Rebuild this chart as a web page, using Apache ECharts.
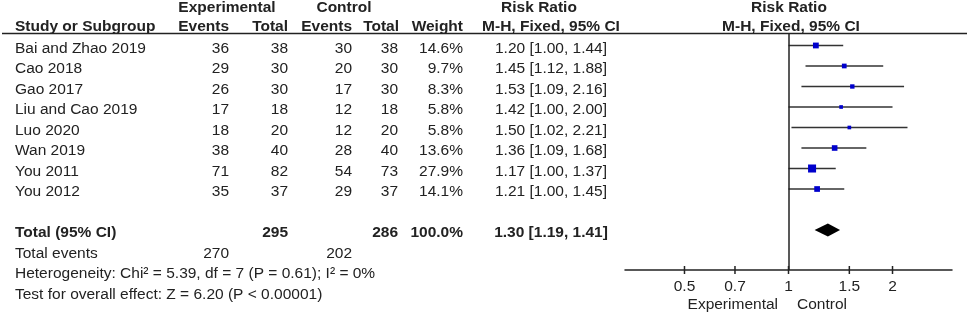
<!DOCTYPE html>
<html>
<head>
<meta charset="utf-8">
<script src="https://cdn.jsdelivr.net/npm/echarts@6/dist/echarts.min.js"></script>
<style>
html, body { margin: 0; padding: 0; background: #fff; }
#main { width: 969px; height: 316px; }
</style>
</head>
<body>
<div id="main"></div>
<script>
// study data
var studies = ['Bai and Zhao 2019', 'Cao 2018', 'Gao 2017', 'Liu and Cao 2019', 'Luo 2020', 'Wan 2019', 'You 2011', 'You 2012'];
var expEvents = [36, 29, 26, 17, 18, 38, 71, 35];
var expTotal = [38, 30, 30, 18, 20, 40, 82, 37];
var ctrlEvents = [30, 20, 17, 12, 12, 28, 54, 29];
var ctrlTotal = [38, 30, 30, 18, 20, 40, 73, 37];
var weights = [14.6, 9.7, 8.3, 5.8, 5.8, 13.6, 27.9, 14.1];
var rr = [1.20, 1.45, 1.53, 1.42, 1.50, 1.36, 1.17, 1.21];
var lower = [1.00, 1.12, 1.09, 1.00, 1.02, 1.09, 1.00, 1.00];
var upper = [1.44, 1.88, 2.16, 2.00, 2.21, 1.68, 1.37, 1.45];

// pooled result
var pooled = [1.30, 1.19, 1.41];   // rr, lower, upper
var totalN = [295, 286];          // experimental, control
var totalEvents = [270, 202];
var heterogeneity = 'Heterogeneity: Chi² = 5.39, df = 7 (P = 0.61); I² = 0%';
var overallTest = 'Test for overall effect: Z = 6.20 (P < 0.00001)';

var tickValues = [0.5, 0.7, 1, 1.5, 2];
var tickLabels = ['0.5', '0.7', '1', '1.5', '2'];

var FONT = '"Liberation Sans", Arial, sans-serif';
var FS = '15.5px ';
var TXT = '#222';
var Y_MIN = -0.56, Y_MAX = 10.95;
var TOTAL_ROW = 9;

// column x positions / alignment for the table
var cols = [
    {x: 15, align: 'left'},
    {x: 229, align: 'right'},
    {x: 288, align: 'right'},
    {x: 352, align: 'right'},
    {x: 398, align: 'right'},
    {x: 463, align: 'right'},
    {x: 551, align: 'center'}
];

function f2(v) { return v.toFixed(2); }
function ciText(a, b, c) { return f2(a) + ' [' + f2(b) + ', ' + f2(c) + ']'; }

var tableData = studies.map(function (s, i) {
    return {row: i, bold: false, cells: [s, expEvents[i], expTotal[i], ctrlEvents[i], ctrlTotal[i],
        weights[i].toFixed(1) + '%', ciText(rr[i], lower[i], upper[i])]};
});
tableData.push({row: TOTAL_ROW, bold: true, cells: ['Total (95% CI)', '', totalN[0], '', totalN[1], '100.0%', ciText(pooled[0], pooled[1], pooled[2])]});
tableData.push({row: TOTAL_ROW + 1, bold: false, cells: ['Total events', totalEvents[0], '', totalEvents[1]]});
tableData.push({row: TOTAL_ROW + 2, bold: false, cells: [heterogeneity]});
tableData.push({row: TOTAL_ROW + 3, bold: false, cells: [overallTest]});

function renderTable(params, api) {
    var r = tableData[params.dataIndex];
    var y = api.coord([1, r.row])[1] + 3;
    var children = [];
    r.cells.forEach(function (c, k) {
        if (c === '') return;
        children.push({
            type: 'text',
            style: {
                x: cols[k].x, y: y, text: String(c),
                align: cols[k].align, verticalAlign: 'middle',
                fill: TXT, font: (r.bold ? 'bold ' : '') + FS + FONT
            }
        });
    });
    return {type: 'group', children: children};
}

function renderCI(params, api) {
    var a = api.coord([api.value(0), api.value(2)]);
    var b = api.coord([api.value(1), api.value(2)]);
    return {
        type: 'line',
        shape: {x1: a[0], y1: a[1], x2: b[0], y2: b[1]},
        style: {stroke: '#333', lineWidth: 1.5}
    };
}

function renderDiamond(params, api) {
    var y = api.value(3);
    var l = api.coord([api.value(1), y]);
    var m = api.coord([api.value(0), y]);
    var h = api.coord([api.value(2), y]);
    return {
        type: 'polygon',
        shape: {points: [[l[0], l[1]], [m[0], m[1] - 6.5], [h[0], h[1]], [m[0], m[1] + 6.5]]},
        style: {fill: '#000'}
    };
}

function renderTick(params, api) {
    var p = api.coord([api.value(0), Y_MAX]);
    return {
        type: 'group',
        children: [
            {type: 'line', shape: {x1: p[0], y1: p[1] - 4, x2: p[0], y2: p[1] + 4}, style: {stroke: '#222', lineWidth: 1.5}},
            {type: 'text', style: {x: p[0], y: p[1] + 17, text: tickLabels[params.dataIndex], align: 'center', verticalAlign: 'middle', fill: TXT, font: FS + FONT}}
        ]
    };
}

function hdr(text, x, y, align) {
    return {type: 'text', style: {x: x, y: y, text: text, align: align, verticalAlign: 'middle', fill: TXT, font: 'bold ' + FS + FONT}};
}
function plain(text, x, y, align) {
    return {type: 'text', style: {x: x, y: y, text: text, align: align, verticalAlign: 'middle', fill: TXT, font: FS + FONT}};
}

var chart = echarts.init(document.getElementById('main'));
var option = {
    animation: false,
    backgroundColor: '#fff',
    grid: {left: 625, right: 17, top: 34, bottom: 46},
    xAxis: {
        type: 'log', min: 1 / 2.973, max: 2.973, position: 'bottom',
        axisLine: {show: true, onZero: false, lineStyle: {color: '#222', width: 1.5}},
        axisTick: {show: false}, axisLabel: {show: false}, splitLine: {show: false}
    },
    yAxis: {type: 'value', inverse: true, min: Y_MIN, max: Y_MAX, show: false},
    graphic: [
        hdr('Experimental', 227, 7.5, 'center'),
        hdr('Control', 344, 7.5, 'center'),
        hdr('Risk Ratio', 539, 7.5, 'center'),
        hdr('Risk Ratio', 789, 7.5, 'center'),
        hdr('Study or Subgroup', 15, 27, 'left'),
        hdr('Events', 229, 27, 'right'),
        hdr('Total', 288, 27, 'right'),
        hdr('Events', 352, 27, 'right'),
        hdr('Total', 399, 27, 'right'),
        hdr('Weight', 463, 27, 'right'),
        hdr('M-H, Fixed, 95% CI', 551, 27, 'center'),
        hdr('M-H, Fixed, 95% CI', 791, 27, 'center'),
        {type: 'line', shape: {x1: 2, y1: 33.5, x2: 967, y2: 33.5}, style: {stroke: '#222', lineWidth: 1.5}},
        plain('Experimental', 778, 305, 'right'),
        plain('Control', 797, 305, 'left')
    ],
    series: [
        {
            type: 'custom', name: 'table', silent: true,
            renderItem: renderTable,
            encode: {x: 0, y: 1},
            data: tableData.map(function (r) { return [1, r.row]; })
        },
        {
            type: 'custom', name: 'ci', silent: true,
            renderItem: renderCI,
            encode: {x: [0, 1], y: 2},
            data: studies.map(function (s, i) { return [lower[i], upper[i], i]; }),
            markLine: {
                silent: true, symbol: 'none', label: {show: false},
                lineStyle: {color: '#222', width: 1.5, type: 'solid'},
                data: [{xAxis: 1}]
            }
        },
        {
            type: 'scatter', name: 'rr', silent: true,
            symbol: 'rect',
            symbolSize: function (v, p) { return 1.52 * Math.sqrt(weights[p.dataIndex]); },
            itemStyle: {color: '#0000CC', opacity: 1},
            data: studies.map(function (s, i) { return [rr[i], i]; }),
            z: 5
        },
        {
            type: 'custom', name: 'pooled', silent: true,
            renderItem: renderDiamond,
            encode: {x: [0, 1, 2], y: 3},
            data: [[pooled[0], pooled[1], pooled[2], TOTAL_ROW]]
        },
        {
            type: 'custom', name: 'ticks', silent: true,
            renderItem: renderTick,
            encode: {x: 0, y: 1},
            data: tickValues.map(function (v) { return [v, Y_MAX]; })
        }
    ]
};
chart.setOption(option);
window.addEventListener('resize', function () { chart.resize(); });
</script>
</body>
</html>
